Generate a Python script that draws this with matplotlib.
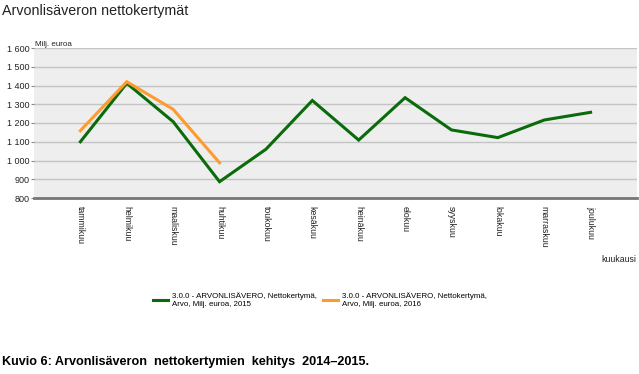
import matplotlib
matplotlib.use("Agg")
import matplotlib.pyplot as plt
from matplotlib.lines import Line2D

plt.rcParams['font.family'] = ['Liberation Sans', 'DejaVu Sans']

months = ["tammikuu", "helmikuu", "maaliskuu", "huhtikuu", "toukokuu", "kesäkuu",
          "heinäkuu", "elokuu", "syyskuu", "lokakuu", "marraskuu", "joulukuu"]
values_2015 = [1100, 1412, 1207, 887, 1060, 1320, 1109, 1335, 1163, 1122, 1216, 1257]
values_2016 = [1159, 1420, 1273, 988]
yticks = [800, 900, 1000, 1100, 1200, 1300, 1400, 1500, 1600]
ytick_labels = ["800", "900", "1 000", "1 100", "1 200", "1 300", "1 400", "1 500", "1 600"]
label_2015 = "3.0.0 - ARVONLISÄVERO, Nettokertymä,\nArvo, Milj. euroa, 2015"
label_2016 = "3.0.0 - ARVONLISÄVERO, Nettokertymä,\nArvo, Milj. euroa, 2016"

W, H = 639, 374
fig = plt.figure(figsize=(W/100, H/100), dpi=100)
ax = fig.add_axes([34/W, 1-198/H, 603/W, 150/H])
ax.set_facecolor("#eeeeee")

x = list(range(len(months)))
ax.plot(x, values_2015, color="#0a6b0a", lw=2.2, solid_joinstyle="miter")
ax.plot(x[:len(values_2016)], values_2016, color="#ff9a2e", lw=2.2, solid_joinstyle="miter")

ax.set_ylim(800, 1600)
ax.set_xlim(-1.0, 12.0)
ax.set_yticks(yticks)
ax.set_yticklabels(ytick_labels, fontsize=6.5, color="#222222")
ax.yaxis.grid(True, color="#c4c4c4", lw=1)
ax.set_axisbelow(True)
ax.set_xticks(x)
ax.set_xticklabels(months, rotation=270, fontsize=6.3, color="#222222", va="top", ha="center")
ax.tick_params(axis="x", length=0, pad=6)
ax.tick_params(axis="y", length=2, color="#888888", pad=1.5)
for s in ["top", "right", "left"]:
    ax.spines[s].set_visible(False)
ax.spines["bottom"].set_color("#777777")
ax.spines["bottom"].set_linewidth(2)

fig.text(2/W, 1-11/H, "Arvonlisäveron nettokertymät", fontsize=10.3, va="center", ha="left", color="#222222")
fig.text(35/W, 1-44/H, "Milj. euroa", fontsize=5.8, va="center", ha="left", color="#222222")
fig.text(636/W, 1-260/H, "kuukausi", fontsize=6.3, va="center", ha="right", color="#222222")

handles = [Line2D([0], [0], color="#0a6b0a", lw=2.2), Line2D([0], [0], color="#ff9a2e", lw=2.2)]
fig.legend(handles, [label_2015, label_2016], loc="center", bbox_to_anchor=(320/W, 1-300/H),
           ncol=2, frameon=False, fontsize=5.7, handlelength=1.9, handletextpad=0.5,
           columnspacing=0.75, borderpad=0, borderaxespad=0)

fig.text(2/W, 1-362/H, "Kuvio 6: Arvonlisäveron  nettokertymien  kehitys  2014–2015.",
         fontsize=9.1, fontweight="bold", va="center", ha="left", color="#000000")

fig.savefig("out.png", dpi=100)
